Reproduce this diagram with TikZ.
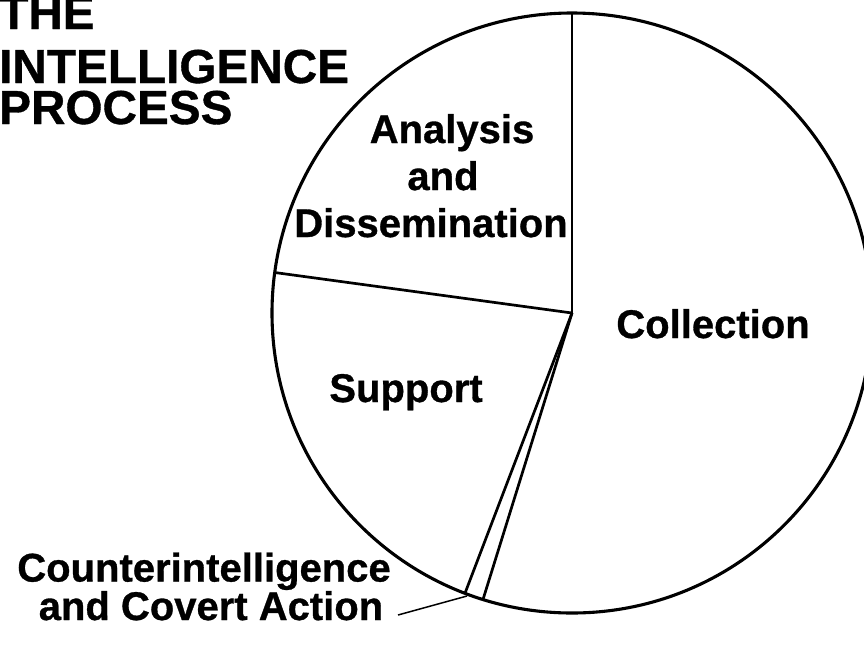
\documentclass[tikz,border=0pt]{standalone}
\usepackage{fontspec}
\setmainfont{Liberation Sans}[BoldFeatures={FakeBold=0.8}]
\begin{document}
\begin{tikzpicture}[x=1pt,y=-1pt,
  rim/.style={line width=3.1pt},
  radial/.style={line width=2.7pt},
  leader/.style={line width=1.5pt},
  lab/.style={inner sep=0pt,anchor=base,font=\fontsize{40}{36}\selectfont\bfseries},
  ttl/.style={inner sep=0pt,anchor=base west,font=\fontsize{47.7}{50}\selectfont\bfseries}]
\useasboundingbox (0,0) rectangle (864,646);
\clip (0,0) rectangle (864,646);
% pie geometry
\coordinate (ctr) at (572,313);
\coordinate (top) at (572,13);
\coordinate (lft) at (274.7,272.5);
\coordinate (ca) at (465,593.2);
\coordinate (cb) at (483,599.5);
\draw[rim] (ctr) circle[radius=300pt];
\draw[radial] (ctr) -- (top);
\draw[radial] (ctr) -- (lft);
\draw[radial] (ctr) -- (ca);
\draw[radial] (ctr) -- (cb);
% title (base anchor = baseline of last line)
\node[ttl,align=left] (ttlnode) at (-1,124) {THE\\[4pt]INTELLIGENCE\\[-9pt]PROCESS};
% labels
\node[lab] (an1) at (452,143) {Analysis};
\node[lab] (an2) at (443,190) {and};
\node[lab] (an3) at (431,237) {Dissemination};
\node[lab] (col) at (713,338) {Collection};
\node[lab] (sup) at (406,402) {Support};
\node[lab,align=center,font=\fontsize{40}{35}\selectfont\bfseries] (ci) at (204,620) {Counterintelligence\\\hspace*{14pt}and Covert Action};
% leader
\coordinate (ls) at (398,615);
\coordinate (le) at (467,596);
\draw[leader] (ls) -- (le);
\end{tikzpicture}
\end{document}
